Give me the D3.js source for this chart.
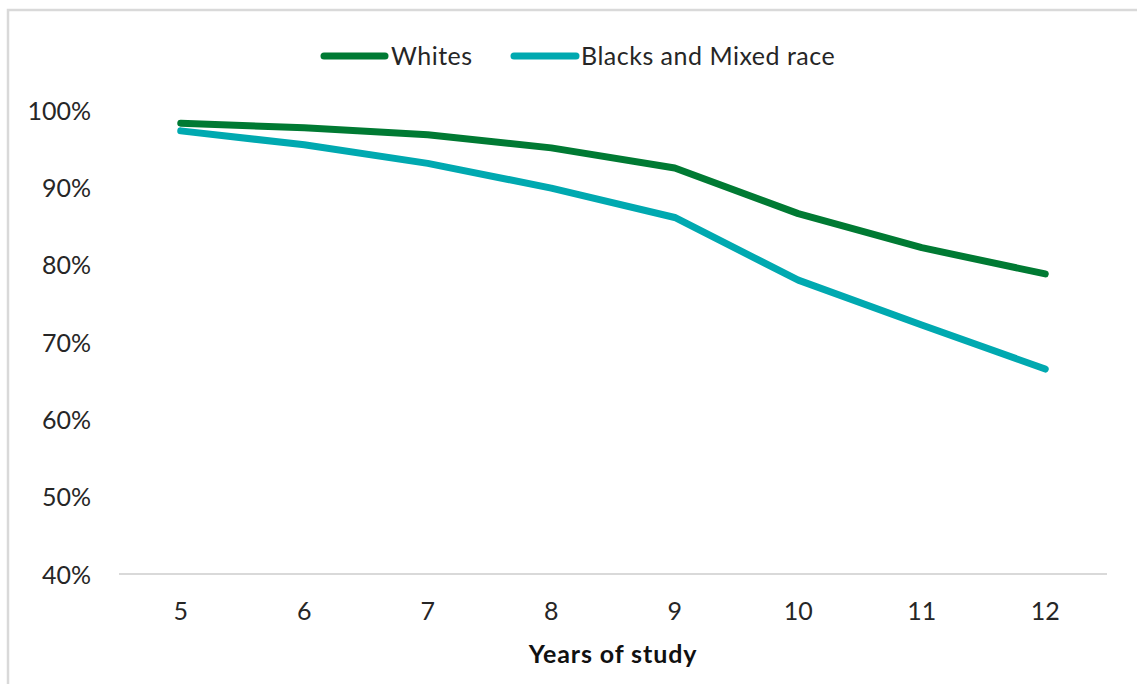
<!DOCTYPE html>
<html>
<head>
<meta charset="utf-8">
<script src="https://cdn.jsdelivr.net/npm/d3@7"></script>
<style>
  html, body { margin: 0; padding: 0; background: #fff; }
  svg { display: block; font-family: Lato, "Open Sans", sans-serif; }
</style>
</head>
<body>
<svg id="chart" width="1137" height="684"></svg>
<script>
// Share of students still enrolled, by years of study
const years = ["5", "6", "7", "8", "9", "10", "11", "12"];
const whites = [98.3, 97.7, 96.8, 95.1, 92.5, 86.6, 82.2, 78.8];
const blacksMixed = [97.3, 95.5, 93.1, 89.9, 86.1, 78.0, 72.2, 66.5];
const yTicks = [40, 50, 60, 70, 80, 90, 100];
const seriesNames = ["Whites", "Blacks and Mixed race"];
const seriesColors = ["#007a33", "#00a9b0"];

const svg = d3.select("#chart");
const textColor = "#262626";

// outer frame
svg.append("rect")
  .attr("x", 8).attr("y", 10)
  .attr("width", 1140).attr("height", 690)
  .attr("fill", "none")
  .attr("stroke", "#d9d9d9")
  .attr("stroke-width", 2.5);

const plot = { left: 119, right: 1107, top: 110, bottom: 574 };

const x = d3.scaleBand().domain(years).range([plot.left, plot.right]);
const y = d3.scaleLinear().domain([40, 100]).range([plot.bottom, plot.top]);

// baseline
svg.append("line")
  .attr("x1", plot.left).attr("x2", plot.right)
  .attr("y1", y(40)).attr("y2", y(40))
  .attr("stroke", "#d9d9d9").attr("stroke-width", 2);

// y axis labels
const yAxis = d3.axisLeft(y).tickValues(yTicks).tickSize(0).tickPadding(0)
  .tickFormat(d => d + "%");
const gy = svg.append("g").attr("transform", "translate(91,1)").call(yAxis);
gy.select(".domain").remove();
gy.selectAll("text").attr("font-size", 25).attr("fill", textColor)
  .attr("font-family", "Lato, 'Open Sans', sans-serif");

// x axis labels
const xAxis = d3.axisBottom(x).tickSize(0).tickPadding(0);
const gx = svg.append("g").attr("transform", `translate(0,${plot.bottom + 28})`).call(xAxis);
gx.select(".domain").remove();
gx.selectAll("text").attr("font-size", 25).attr("fill", textColor)
  .attr("font-family", "Lato, 'Open Sans', sans-serif");

// x axis title
svg.append("text")
  .attr("x", (plot.left + plot.right) / 2)
  .attr("y", 663)
  .attr("text-anchor", "middle")
  .attr("font-size", 25)
  .attr("letter-spacing", 0.9)
  .attr("font-weight", "bold")
  .attr("fill", "#111")
  .text("Years of study");

// series lines
const line = d3.line()
  .x((d, i) => x(years[i]) + x.bandwidth() / 2)
  .y(d => y(d));

[whites, blacksMixed].forEach((vals, i) => {
  svg.append("path")
    .datum(vals)
    .attr("d", line)
    .attr("fill", "none")
    .attr("stroke", seriesColors[i])
    .attr("stroke-width", 7)
    .attr("stroke-linecap", "round")
    .attr("stroke-linejoin", "round");
});

// legend
const legendItems = [
  { x1: 324, x2: 385, tx: 391 },
  { x1: 514, x2: 576, tx: 581 }
];
legendItems.forEach((it, i) => {
  svg.append("line")
    .attr("x1", it.x1).attr("x2", it.x2)
    .attr("y1", 56).attr("y2", 56)
    .attr("stroke", seriesColors[i])
    .attr("stroke-width", 7)
    .attr("stroke-linecap", "round");
  svg.append("text")
    .attr("x", it.tx).attr("y", 56)
    .attr("dy", "0.35em")
    .attr("font-size", 25)
    .attr("letter-spacing", 0.5)
    .attr("fill", textColor)
    .text(seriesNames[i]);
});
</script>
</body>
</html>
